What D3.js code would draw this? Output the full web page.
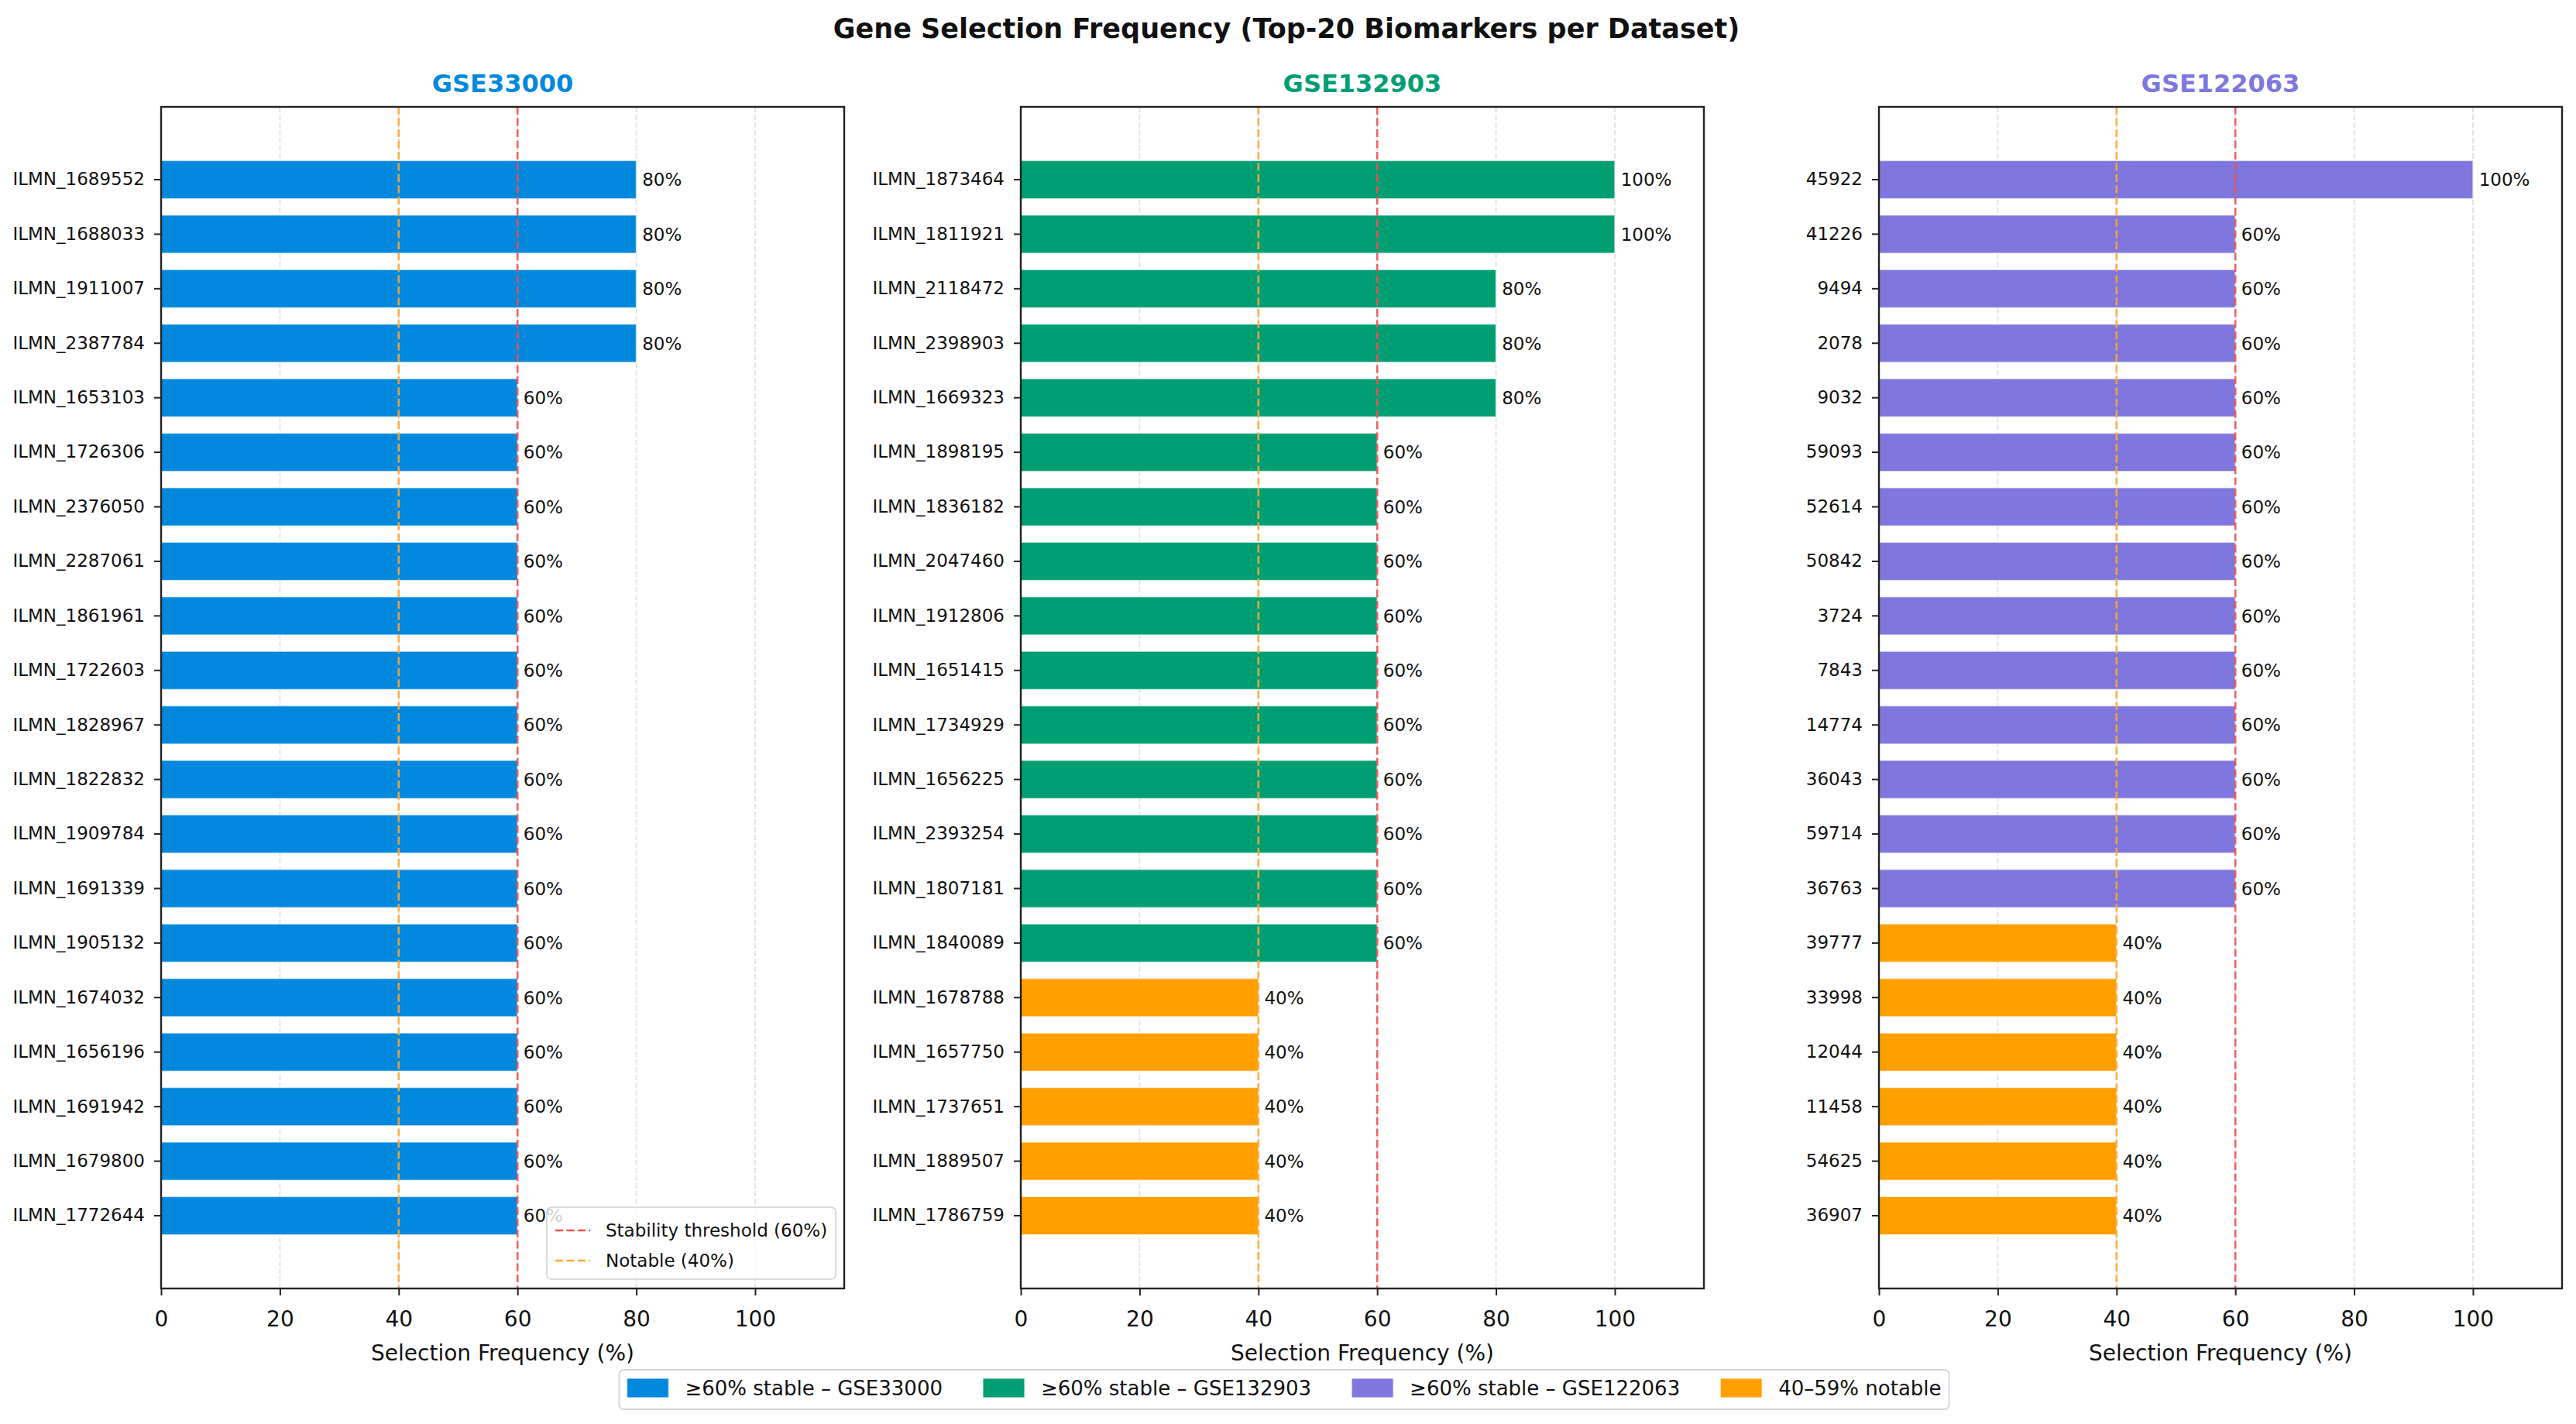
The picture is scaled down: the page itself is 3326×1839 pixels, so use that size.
<!DOCTYPE html>
<html><head><meta charset="utf-8">
<script src="https://cdn.jsdelivr.net/npm/d3@7"></script>
<style>body{margin:0;background:#fff} text{font-family:"DejaVu Sans",sans-serif}</style>
</head><body><svg id="chart" width="3326" height="1839"></svg>
<script>
// ---------------- DATA ----------------
const datasetNames = ["GSE33000", "GSE132903", "GSE122063"];
const genesGSE33000 = ["ILMN_1689552","ILMN_1688033","ILMN_1911007","ILMN_2387784","ILMN_1653103","ILMN_1726306","ILMN_2376050","ILMN_2287061","ILMN_1861961","ILMN_1722603","ILMN_1828967","ILMN_1822832","ILMN_1909784","ILMN_1691339","ILMN_1905132","ILMN_1674032","ILMN_1656196","ILMN_1691942","ILMN_1679800","ILMN_1772644"];
const freqGSE33000  = [80,80,80,80,60,60,60,60,60,60,60,60,60,60,60,60,60,60,60,60];
const genesGSE132903 = ["ILMN_1873464","ILMN_1811921","ILMN_2118472","ILMN_2398903","ILMN_1669323","ILMN_1898195","ILMN_1836182","ILMN_2047460","ILMN_1912806","ILMN_1651415","ILMN_1734929","ILMN_1656225","ILMN_2393254","ILMN_1807181","ILMN_1840089","ILMN_1678788","ILMN_1657750","ILMN_1737651","ILMN_1889507","ILMN_1786759"];
const freqGSE132903  = [100,100,80,80,80,60,60,60,60,60,60,60,60,60,60,40,40,40,40,40];
const genesGSE122063 = ["45922","41226","9494","2078","9032","59093","52614","50842","3724","7843","14774","36043","59714","36763","39777","33998","12044","11458","54625","36907"];
const freqGSE122063  = [100,60,60,60,60,60,60,60,60,60,60,60,60,60,40,40,40,40,40,40];
const xTickValues = [0, 20, 40, 60, 80, 100];
const stabilityThreshold = 60;
const notableThreshold = 40;
const figureTitle = "Gene Selection Frequency (Top-20 Biomarkers per Dataset)";
const xAxisLabel = "Selection Frequency (%)";
const thresholdLegendLabels = ["Stability threshold (60%)", "Notable (40%)"];
const bottomLegendLabels = ["\u226560% stable \u2013 GSE33000", "\u226560% stable \u2013 GSE132903", "\u226560% stable \u2013 GSE122063", "40\u201359% notable"];

// ---------------- STYLE ----------------
const datasetColors = ["#0288DD", "#009E73", "#7F77DD"];
const notableColor = "#FFA000";
const redLine = "#F05050";
const orangeLine = "#FFA733";
const genesAll = [genesGSE33000, genesGSE132903, genesGSE122063];
const freqAll = [freqGSE33000, freqGSE132903, freqGSE122063];

const svg = d3.select("#chart");
svg.append("rect").attr("width", 3326).attr("height", 1839).attr("fill", "#fff");

const panelLeft = [208, 1318, 2426];
const panelW = 882, plotTop = 138, plotBottom = 1664;

svg.append("text").attr("x", 1661).attr("y", 49).attr("text-anchor", "middle")
  .attr("font-size", 35).attr("font-weight", "bold").attr("fill", "#111").text(figureTitle);

datasetNames.forEach((name, i) => {
  const L = panelLeft[i];
  const genes = genesAll[i], freqs = freqAll[i];
  const data = genes.map((g, k) => ({gene: g, v: freqs[k]}));
  const x = d3.scaleLinear().domain([0, 115]).range([L, L + panelW]);
  const y = d3.scaleBand().domain(genes).range([plotTop, plotBottom]).paddingInner(0.3).paddingOuter(0.985);
  const g = svg.append("g");

  // grid
  g.selectAll(".grid").data(xTickValues).join("line")
    .attr("x1", d => x(d)).attr("x2", d => x(d)).attr("y1", plotTop).attr("y2", plotBottom)
    .attr("stroke", "#e2e2e2").attr("stroke-width", 1.8).attr("stroke-dasharray", "7,3");

  // bars
  g.selectAll(".bar").data(data).join("rect")
    .attr("x", x(0)).attr("y", d => y(d.gene))
    .attr("width", d => x(d.v) - x(0)).attr("height", y.bandwidth())
    .attr("fill", d => d.v >= stabilityThreshold ? datasetColors[i] : notableColor)
    .attr("stroke", "#fff").attr("stroke-opacity", 0.6).attr("stroke-width", 1.5);

  // threshold lines
  g.append("line").attr("x1", x(stabilityThreshold)).attr("x2", x(stabilityThreshold))
    .attr("y1", plotTop).attr("y2", plotBottom).attr("stroke", redLine).attr("stroke-width", 2.6)
    .attr("stroke-dasharray", "10,4.5").attr("opacity", 0.9);
  g.append("line").attr("x1", x(notableThreshold)).attr("x2", x(notableThreshold))
    .attr("y1", plotTop).attr("y2", plotBottom).attr("stroke", orangeLine).attr("stroke-width", 2.6)
    .attr("stroke-dasharray", "10,4.5").attr("opacity", 0.9);

  // value labels
  g.selectAll(".val").data(data).join("text")
    .attr("x", d => x(d.v + 1)).attr("y", d => y(d.gene) + y.bandwidth() / 2)
    .attr("dy", "0.36em").attr("font-size", 23).attr("fill", "#111")
    .text(d => d.v + "%");

  // axes
  const ax = g.append("g").attr("transform", `translate(0,${plotBottom})`)
    .call(d3.axisBottom(x).tickValues(xTickValues).tickSize(9).tickPadding(20));
  ax.select(".domain").remove();
  ax.selectAll(".tick line").attr("stroke", "#222").attr("stroke-width", 2);
  ax.selectAll(".tick text").attr("font-size", 28).attr("fill", "#111").attr("font-family", "DejaVu Sans");

  const ay = g.append("g").attr("transform", `translate(${L},0)`)
    .call(d3.axisLeft(y).tickSize(9).tickPadding(12));
  ay.select(".domain").remove();
  ay.selectAll(".tick line").attr("stroke", "#222").attr("stroke-width", 2);
  ay.selectAll(".tick text").attr("font-size", 23).attr("fill", "#111").attr("font-family", "DejaVu Sans");

  // spines
  g.append("rect").attr("x", L).attr("y", plotTop).attr("width", panelW).attr("height", plotBottom - plotTop)
    .attr("fill", "none").attr("stroke", "#222").attr("stroke-width", 2.4);

  // subplot title
  g.append("text").attr("x", L + panelW / 2).attr("y", 119).attr("text-anchor", "middle")
    .attr("font-size", 32).attr("font-weight", "bold").attr("fill", datasetColors[i]).text(name);

  // x label
  g.append("text").attr("x", L + panelW / 2).attr("y", 1757).attr("text-anchor", "middle")
    .attr("font-size", 28).attr("fill", "#111").text(xAxisLabel);

  // threshold legend only in first panel
  if (i === 0) {
    const lg = g.append("g");
    const box = lg.append("rect").attr("x", 706).attr("y", 1559).attr("height", 93).attr("rx", 6)
      .attr("fill", "#fff").attr("fill-opacity", 0.8).attr("stroke", "#d0d0d0").attr("stroke-width", 1.5);
    const cols = [redLine, orangeLine];
    let maxEnd = 0;
    thresholdLegendLabels.forEach((lab, k) => {
      const yy = 1589 + k * 39;
      lg.append("line").attr("x1", 717).attr("x2", 762).attr("y1", yy).attr("y2", yy)
        .attr("stroke", cols[k]).attr("stroke-width", 2.6).attr("stroke-dasharray", "10,4.5");
      const t = lg.append("text").attr("x", 782).attr("y", yy).attr("dy", "0.36em")
        .attr("font-size", 23).attr("fill", "#111").text(lab);
      maxEnd = Math.max(maxEnd, 782 + t.node().getComputedTextLength());
    });
    box.attr("width", maxEnd + 11 - 706);
  }
});

// bottom legend
const leg = svg.append("g");
const legColors = [...datasetColors, notableColor];
const patchW = 54, patchH = 25, handlePad = 21, colSpace = 52, boxPad = 10;
const items = [];
let cx = 0;
const tmp = leg.append("g");
bottomLegendLabels.forEach((lab, k) => {
  const t = tmp.append("text").attr("font-size", 26).text(lab);
  const w = t.node().getComputedTextLength();
  items.push({lab, w, x: cx, c: legColors[k]});
  cx += patchW + handlePad + w + (k < bottomLegendLabels.length - 1 ? colSpace : 0);
});
tmp.remove();
const totalW = cx + 2 * boxPad;
const bx = 1658 - totalW / 2;
leg.append("rect").attr("x", bx).attr("y", 1769).attr("width", totalW).attr("height", 51).attr("rx", 6)
  .attr("fill", "#fff").attr("stroke", "#d4d4d4").attr("stroke-width", 1.8);
items.forEach(it => {
  const px = bx + boxPad + it.x;
  leg.append("rect").attr("x", px).attr("y", 1780).attr("width", patchW).attr("height", patchH)
    .attr("fill", it.c).attr("stroke", "#fff").attr("stroke-opacity", 0.6).attr("stroke-width", 1.5);
  leg.append("text").attr("x", px + patchW + handlePad).attr("y", 1793).attr("dy", "0.36em")
    .attr("font-size", 26).attr("fill", "#111").text(it.lab);
});
</script></body></html>
